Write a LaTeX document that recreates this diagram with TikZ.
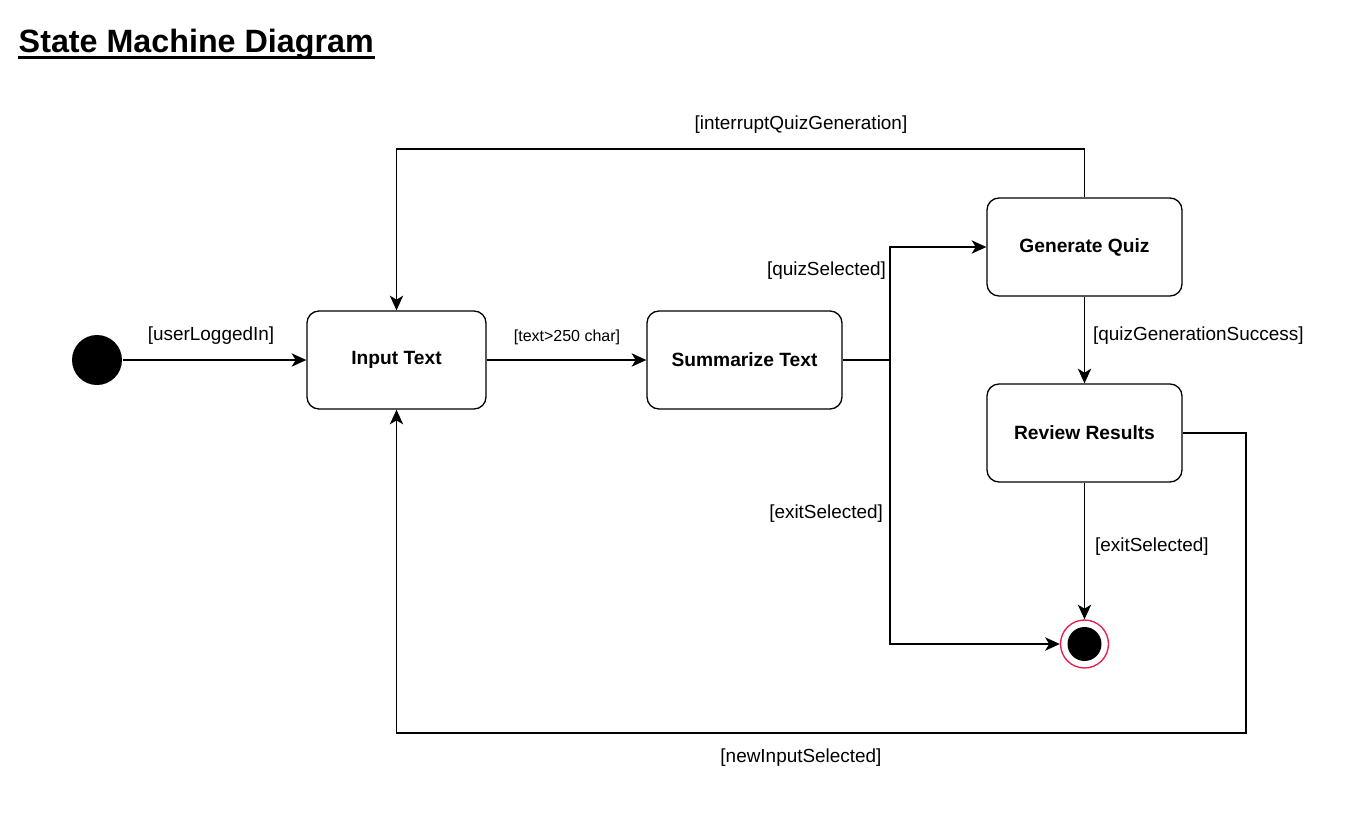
\documentclass[tikz,border=0pt]{standalone}
\usepackage{fontspec}
\setmainfont{Liberation Sans}
\usetikzlibrary{arrows.meta}

\begin{document}
\begin{tikzpicture}[x=0.75pt,y=-0.75pt,->,>={Stealth[length=11pt,width=10pt,inset=3pt]},line width=1.1pt,
    	 state node/.style={rectangle,rounded corners=9pt,draw,line width=1pt,minimum width=146.25pt,minimum height=73.5pt,font=\fontsize{14.4}{17}\selectfont\bfseries},
    	 start node/.style={circle,fill=black,minimum size=37.5pt,inner sep=0pt},
    	 end node/.style={circle,draw=endred,line width=1pt,fill=white,minimum size=36pt,inner sep=0pt},
    	 guard/.style={font=\fontsize{14.2}{17}\selectfont,inner sep=1pt}]

	\definecolor{endred}{RGB}{232,28,72}

	\useasboundingbox (0,0) rectangle (1354,833);
	\node[anchor=base west,inner sep=0pt,font=\fontsize{24.2}{28}\selectfont\bfseries] (title) at (18,52) {State Machine Diagram};
	\draw[-,line width=1.8pt] ([yshift=-4pt]title.base west) -- ([yshift=-4pt]title.base east);

  	\node[start node] (start) at (97,360) {};
	\node[state node,minimum width=134.25pt] (input) at (396.5,360) {Input Text};
	\node[state node] (summ) at (744.5,360) {Summarize Text};
	\node[state node] (gen) at (1084.5,247) {Generate Quiz};
	\node[state node] (review) at (1084.5,433) {Review Results};
	\node[end node] (end) at (1084.5,644) {};
	\node[circle,fill=black,minimum size=25.5pt,inner sep=0pt] (endin) at (end) {};

	\coordinate (fork) at (890,360);
	\coordinate (top) at (396.5,149);
	\coordinate (loop) at (1246,733);

  	\path
    (start) edge (input)
    (input) edge (summ)
    (gen)   edge (review)
    (review) edge (end);

	\draw[-] (summ) -- (fork);
	\draw (fork) |- (gen);
	\draw (fork) |- (end);
	\draw (gen.north) |- (top) -- (input.north);
	\draw (review.east) -| (loop) -| (input.south);

	\node[guard] (l1) at (211,336) {[userLoggedIn]};
	\node[guard,font=\fontsize{12}{14}\selectfont] (l2) at (567,337) {[text>250 char]};
	\node[guard,anchor=east] (l3) at (888,271) {[quizSelected]};
	\node[guard,anchor=east] (l4) at (885,514) {[exitSelected]};
	\node[guard,anchor=west] (l5) at (1091,336) {[quizGenerationSuccess]};
	\node[guard,anchor=west] (l6) at (1093,547) {[exitSelected]};
	\node[guard] (l7) at (801,125) {[interruptQuizGeneration]};
	\node[guard] (l8) at (801,758) {[newInputSelected]};

\end{tikzpicture}
\end{document}
